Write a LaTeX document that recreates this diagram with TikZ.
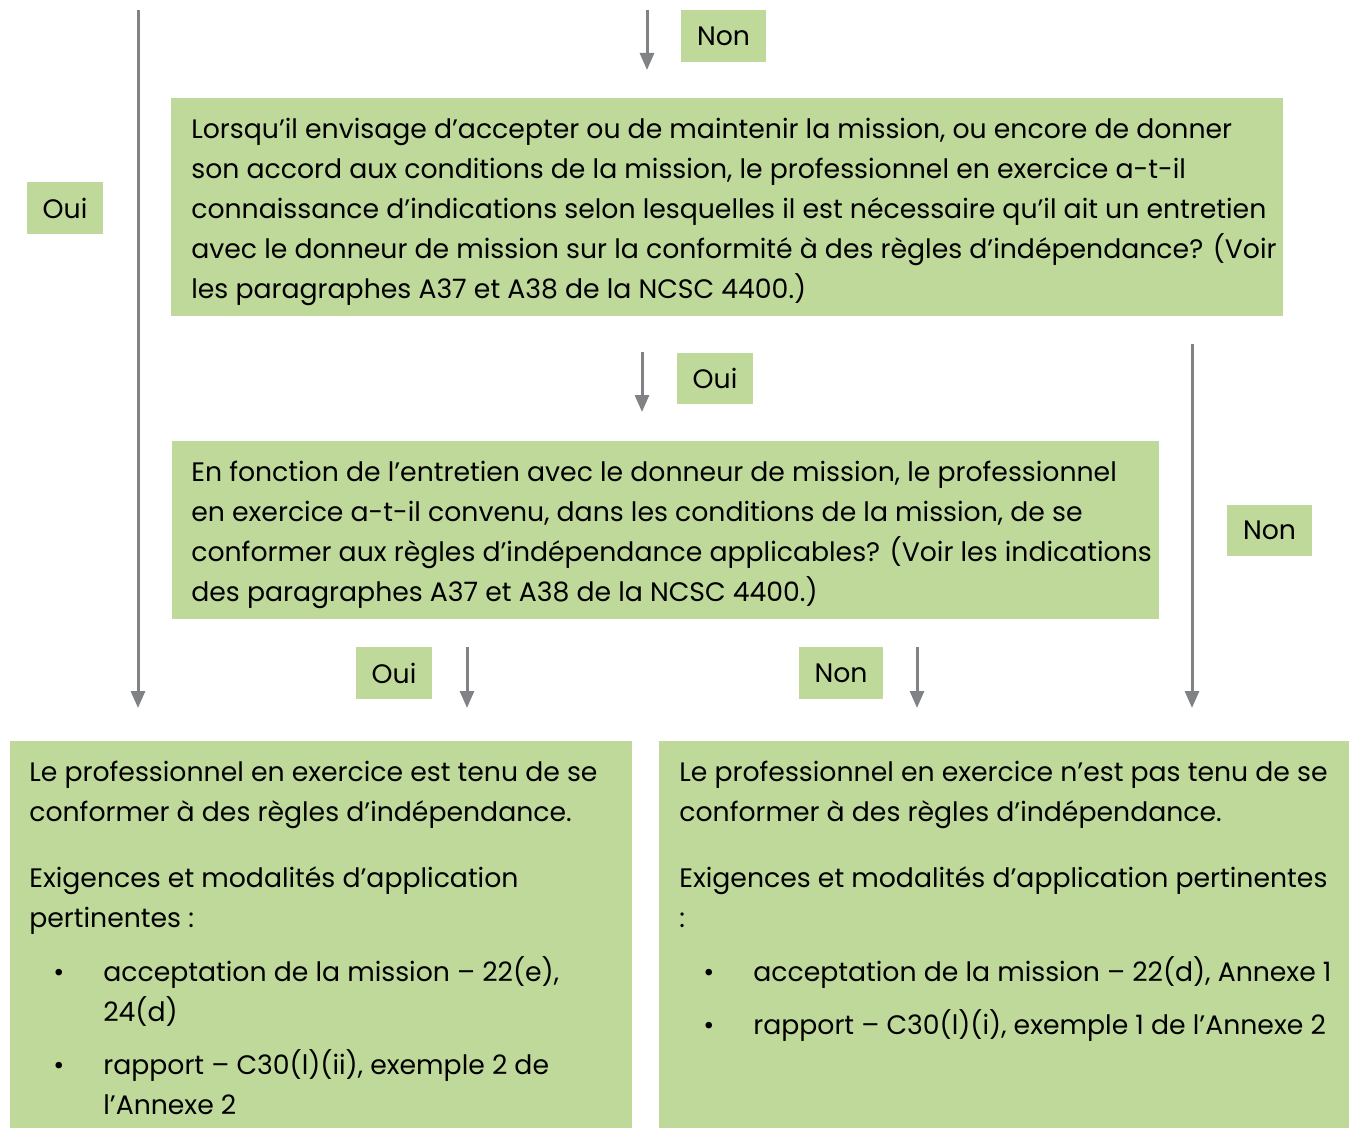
\documentclass[tikz,border=0pt]{standalone}
\usepackage{fontspec}
\setmainfont{Poppins}
\usetikzlibrary{arrows.meta,positioning}
\definecolor{boxgreen}{RGB}{191,217,154}
\definecolor{flowgray}{RGB}{128,130,133}
\newcommand\bodyfont{\fontsize{15.2}{22.76}\selectfont}
\newcommand\bul{\hspace*{0.48cm}\makebox[1.0cm][l]{•}}
\newcommand\bulrest{\hspace*{1.48cm}}
\tikzset{
  greenbox/.style={fill=boxgreen, inner sep=0pt, anchor=north west},
  boxtext/.style={anchor=north west, inner sep=0pt, align=left, font=\bodyfont},
  tag/.style={fill=boxgreen, minimum height=1.04cm, inner xsep=0.32cm, font=\bodyfont},
  flow/.style={draw=flowgray, line width=0.06cm, -{Triangle[length=0.34cm,width=0.28cm]}}
}

\begin{document}
\begin{tikzpicture}[x=0.02cm,y=-0.02cm]
   \useasboundingbox (0,0) rectangle (1350,1128);

   % boxes
   \node [greenbox, minimum width=22.24cm, minimum height=4.36cm] (ask) at (171,98) {};
   \node [greenbox, minimum width=19.74cm, minimum height=3.56cm] (agreed) at (172,441) {};
   \node [greenbox, minimum width=12.44cm, minimum height=7.74cm] (bound) at (10,741) {};
   \node [greenbox, minimum width=13.8cm, minimum height=7.74cm] (free) at (659,741) {};

   \node [boxtext] (ask_t) at (191,110) {\strut Lorsqu’il envisage d’accepter ou de maintenir la mission, ou encore de donner\\
      son accord aux conditions de la mission, le professionnel en exercice a-t-il\\
      connaissance d’indications selon lesquelles il est nécessaire qu’il ait un entretien\\
      avec le donneur de mission sur la conformité à des règles d’indépendance? (Voir\\
      les paragraphes A37 et A38 de la NCSC 4400.)};
   \node [boxtext] (agreed_t) at (191,453) {\strut En fonction de l’entretien avec le donneur de mission, le professionnel\\
      en exercice a-t-il convenu, dans les conditions de la mission, de se\\
      conformer aux règles d’indépendance applicables? (Voir les indications\\
      des paragraphes A37 et A38 de la NCSC 4400.)};
   \node [boxtext] (bound_t) at (29,753) {\strut Le professionnel en exercice est tenu de se\\
      conformer à des règles d’indépendance.\\[0.52cm]
      Exigences et modalités d’application\\
      pertinentes :\\[0.28cm]
      \bul acceptation de la mission – 22(e),\\
      \bulrest 24(d)\\[0.26cm]
      \bul rapport – C30(l)(ii), exemple 2 de\\
      \bulrest l’Annexe 2};
   \node [boxtext] (free_t) at (679,753) {\strut Le professionnel en exercice n’est pas tenu de se\\
      conformer à des règles d’indépendance.\\[0.52cm]
      Exigences et modalités d’application pertinentes\\
      :\\[0.28cm]
      \bul acceptation de la mission – 22(d), Annexe 1\\[0.26cm]
      \bul rapport – C30(l)(i), exemple 1 de l’Annexe 2};

   % answer tags
   \node [tag] (non_top) at (723.5,36) {Non};
   \node [tag] (oui_left) at (65,208) {Oui};
   \node [tag] (oui_mid) at (715,378.5) {Oui};
   \node [tag] (non_right) at (1269.5,530.5) {Non};
   \node [tag] (oui_low) at (394,673) {Oui};
   \node [tag] (non_low) at (841,673) {Non};

   % arrow ends
   \coordinate (top_s) at (647,10);     \coordinate (top_e) at (647,70);
   \coordinate (left_s) at (138,10);    \coordinate (left_e) at (138,708);
   \coordinate (mid_s) at (642,352);    \coordinate (mid_e) at (642,412);
   \coordinate (right_s) at (1192,344); \coordinate (right_e) at (1192,708);
   \coordinate (low1_s) at (467,647);   \coordinate (low1_e) at (467,708);
   \coordinate (low2_s) at (917,647);   \coordinate (low2_e) at (917,708);

   \draw [flow] (top_s) -- (top_e);
   \draw [flow] (left_s) -- (left_e);
   \draw [flow] (mid_s) -- (mid_e);
   \draw [flow] (right_s) -- (right_e);
   \draw [flow] (low1_s) -- (low1_e);
   \draw [flow] (low2_s) -- (low2_e);
\end{tikzpicture}
\end{document}
